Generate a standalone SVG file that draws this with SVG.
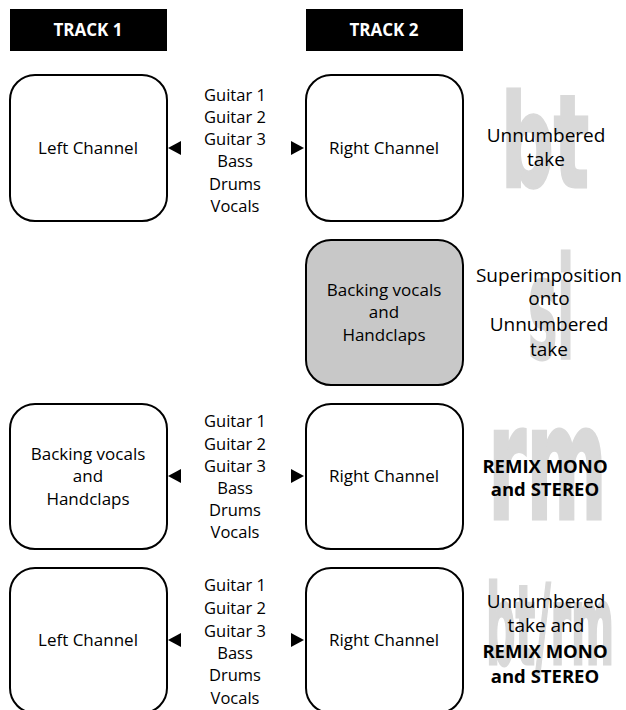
<svg xmlns="http://www.w3.org/2000/svg" width="626" height="710" viewBox="0 0 626 710">
<defs>
<style>
.hdr{fill:#000}
.hdrt{font-family:"Open Sans",sans-serif;font-weight:bold;font-size:17px;fill:#fff;text-anchor:middle}
.box{fill:#fff;stroke:#000;stroke-width:2}
.gbox{fill:#c8c8c8;stroke:#000;stroke-width:2}
.t{font-family:"Open Sans",sans-serif;font-size:17px;fill:#000;text-anchor:middle}
.li{font-family:"Open Sans",sans-serif;font-size:16.5px;fill:#000;text-anchor:middle}
.l{font-family:"Open Sans",sans-serif;font-size:19px;fill:#000;text-anchor:middle}
.b{font-family:"Open Sans",sans-serif;font-weight:bold;font-size:18.5px;fill:#000;text-anchor:middle}
.wm{font-family:"DejaVu Sans",sans-serif;font-weight:bold;fill:#d9d9d9;stroke:#d9d9d9;stroke-width:3;stroke-linejoin:miter}
.arr{fill:#000}
</style>
</defs>
<g id="header1"><rect class="hdr" x="10" y="9" width="157" height="42"/><text class="hdrt" x="88" y="36">TRACK 1</text></g>
<g id="header2"><rect class="hdr" x="306" y="9" width="157" height="42"/><text class="hdrt" x="384" y="36">TRACK 2</text></g>

<g id="watermarks">
<text class="wm" x="501" y="187" font-size="128" textLength="88" lengthAdjust="spacingAndGlyphs">bt</text>
<text class="wm" x="528" y="358" font-size="140" textLength="46" lengthAdjust="spacingAndGlyphs">si</text>
<text class="wm" x="488" y="519" font-size="160" textLength="119" lengthAdjust="spacingAndGlyphs">rm</text>
<text class="wm" x="486" y="664" font-size="110" textLength="128" lengthAdjust="spacingAndGlyphs">bt/rm</text>
</g>

<g id="row1-left"><rect class="box" x="10" y="75" width="157" height="146" rx="25"/><text class="t" x="88" y="154">Left Channel</text></g>
<g id="row1-right"><rect class="box" x="306" y="75" width="157" height="146" rx="25"/><text class="t" x="384" y="154">Right Channel</text></g>
<g id="row1-list"><text class="li" x="235" y="101">Guitar 1</text><text class="li" x="235" y="123">Guitar 2</text><text class="li" x="235" y="145">Guitar 3</text><text class="li" x="235" y="167">Bass</text><text class="li" x="235" y="190">Drums</text><text class="li" x="235" y="212">Vocals</text></g>
<g id="row1-note"><text class="l" x="546" y="142">Unnumbered</text><text class="l" x="546" y="166">take</text></g>

<g id="row2-box"><rect class="gbox" x="306" y="240" width="157" height="145" rx="25"/><text class="t" x="384" y="296">Backing vocals</text><text class="t" x="384" y="318">and</text><text class="t" x="384" y="341">Handclaps</text></g>
<g id="row2-note"><text class="l" x="549" y="282">Superimposition</text><text class="l" x="549" y="305">onto</text><text class="l" x="549" y="331">Unnumbered</text><text class="l" x="549" y="356">take</text></g>

<g id="row3-left"><rect class="box" x="10" y="404" width="157" height="145" rx="25"/><text class="t" x="88" y="460">Backing vocals</text><text class="t" x="88" y="482">and</text><text class="t" x="88" y="505">Handclaps</text></g>
<g id="row3-right"><rect class="box" x="306" y="404" width="157" height="145" rx="25"/><text class="t" x="384" y="482">Right Channel</text></g>
<g id="row3-list"><text class="li" x="235" y="427">Guitar 1</text><text class="li" x="235" y="450">Guitar 2</text><text class="li" x="235" y="472">Guitar 3</text><text class="li" x="235" y="494">Bass</text><text class="li" x="235" y="516">Drums</text><text class="li" x="235" y="538">Vocals</text></g>
<g id="row3-note"><text class="b" x="545" y="473">REMIX MONO</text><text class="b" x="545" y="496">and STEREO</text></g>

<g id="row4-left"><rect class="box" x="10" y="568" width="157" height="145" rx="25"/><text class="t" x="88" y="646">Left Channel</text></g>
<g id="row4-right"><rect class="box" x="306" y="568" width="157" height="145" rx="25"/><text class="t" x="384" y="646">Right Channel</text></g>
<g id="row4-list"><text class="li" x="235" y="591">Guitar 1</text><text class="li" x="235" y="614">Guitar 2</text><text class="li" x="235" y="637">Guitar 3</text><text class="li" x="235" y="659">Bass</text><text class="li" x="235" y="681">Drums</text><text class="li" x="235" y="704">Vocals</text></g>
<g id="row4-note"><text class="l" x="546" y="608">Unnumbered</text><text class="l" x="546" y="632">take and</text><text class="b" x="545" y="658">REMIX MONO</text><text class="b" x="545" y="683">and STEREO</text></g>

<g id="connectors">
<polygon class="arr" points="168,148 181,141 181,155"/>
<polygon class="arr" points="304,148 291,141 291,155"/>
<polygon class="arr" points="168,476 181,469 181,483"/>
<polygon class="arr" points="304,476 291,469 291,483"/>
<polygon class="arr" points="168,640 181,633 181,647"/>
<polygon class="arr" points="304,640 291,633 291,647"/>
</g>
</svg>
